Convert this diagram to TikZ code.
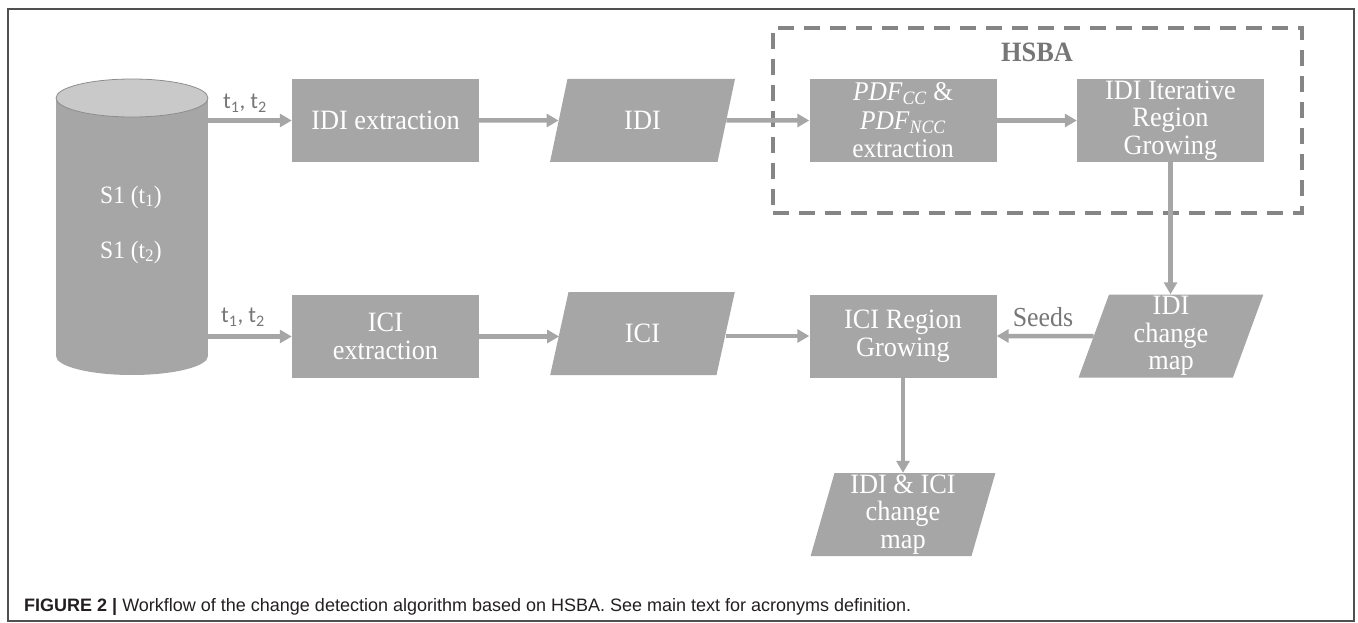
\documentclass[tikz,border=0pt]{standalone}
\usepackage{fontspec}
\setmainfont{Liberation Serif}
\newfontfamily\boxfont[FakeStretch=0.94]{Liberation Serif}
\newfontfamily\capfont{Liberation Sans}
\newfontfamily\labfont{Carlito}
\usetikzlibrary{arrows.meta,shapes.geometric}
\definecolor{boxgray}{HTML}{A6A6A6}
\definecolor{topgray}{HTML}{C9C9C9}
\definecolor{labgray}{HTML}{767676}
\definecolor{dashgray}{HTML}{858585}
\definecolor{framegray}{HTML}{505050}
\definecolor{capblack}{HTML}{231F20}
\begin{document}
\begin{tikzpicture}[x=1pt,y=-1pt,
  procbox/.style={fill=boxgray, text=white, minimum width=187pt, minimum height=83pt, inner sep=0pt, align=center, font=\boxfont\fontsize{28}{27.5}\selectfont},
  databox/.style={trapezium, trapezium left angle=77, trapezium right angle=103, trapezium stretches=true, fill=boxgray, text=white, minimum width=185pt, minimum height=83pt, inner sep=0pt, align=center, font=\boxfont\fontsize{28}{27.5}\selectfont},
  flow/.style={draw=boxgray, line width=4.5pt, -{Triangle[length=12pt,width=13pt]}},
  lab/.style={text=labgray, inner sep=0pt, font=\labfont\fontsize{23}{23}\selectfont},
  seedlab/.style={text=labgray, inner sep=0pt, font=\boxfont\fontsize{27.5}{27}\selectfont},
  cyltext/.style={text=white, inner sep=0pt, font=\boxfont\fontsize{25}{25}\selectfont},
  groupbox/.style={draw=dashgray, line width=4pt, dash pattern=on 16pt off 10pt, minimum width=529pt, minimum height=185pt, inner sep=0pt},
]
\path[use as bounding box] (0,0) rectangle (1358,623);
\draw[framegray, line width=1.5pt] (8,9) rectangle (1354,621);

% cylinder
\node[fill=boxgray, inner sep=0pt, minimum width=152pt, minimum height=258pt] (cyl) at (132,227) {};
\fill[boxgray] (132,356) ellipse [x radius=76, y radius=19];
\filldraw[fill=topgray, draw=boxgray!85!black, line width=0.8pt] (132,98) ellipse [x radius=76, y radius=19];
\node[cyltext] (s1a) at (131,197) {S1 (t\textsubscript{1})};
\node[cyltext] (s1b) at (131,252) {S1 (t\textsubscript{2})};

% group
\node[groupbox] (hsba) at (1037.5,120.5) {};
\node[text=labgray, inner sep=0pt, font=\boxfont\bfseries\fontsize{28}{28}\selectfont] (hsbalab) at (1037,52) {HSBA};

% top row
\node[procbox] (idiext) at (385.5,120.5) {IDI extraction};
\node[databox] (idi) at (642.5,120.5) {IDI};
\node[procbox, font=\boxfont\fontsize{27}{28.5}\selectfont] (pdf) at (903,120.5) {\textit{PDF}\textsubscript{\textit{CC}} \&\\\textit{PDF}\textsubscript{\textit{NCC}}\\extraction};
\node[procbox] (iter) at (1170.5,120.5) {IDI Iterative\\Region\\Growing};

% bottom row
\node[procbox] (iciext) at (385.5,336.5) {ICI\\extraction};
\node[databox] (ici) at (642.5,333.5) {ICI};
\node[procbox] (icirg) at (903,336) {ICI Region\\Growing};
\node[databox] (chmap) at (1171,336) {IDI\\change\\map};
\node[databox] (final) at (903,514.5) {IDI \& ICI\\change\\map};

% connectors
\draw[flow] (cyl.east |- idiext.west) -- (idiext.west);
\node[lab] (lt1) at (245,103) {t\textsubscript{1}, t\textsubscript{2}};
\draw[flow] (idiext) -- (idi);
\draw[flow] (idi) -- (pdf);
\draw[flow] (pdf) -- (iter);
\draw[flow] (iter.south) -- (iter.south |- chmap.north);

\draw[flow] (cyl.east |- iciext.west) -- (iciext.west);
\node[lab] (lt2) at (243,317) {t\textsubscript{1}, t\textsubscript{2}};
\draw[flow] (iciext) -- (iciext -| ici.west);
\draw[flow] (ici.east |- icirg.west) -- (icirg.west);
\draw[flow] (chmap) -- (icirg);
\node[seedlab] (seeds) at (1043,317) {Seeds};
\draw[flow] (icirg.south) -- (icirg.south |- final.north);

% caption
\node[anchor=base west, inner sep=0pt, text=capblack, font=\capfont\fontsize{18}{18}\selectfont] (cap) at (24,611) {\textbf{FIGURE 2 |} Workflow of the change detection algorithm based on HSBA. See main text for acronyms definition.};
\end{tikzpicture}
\end{document}
